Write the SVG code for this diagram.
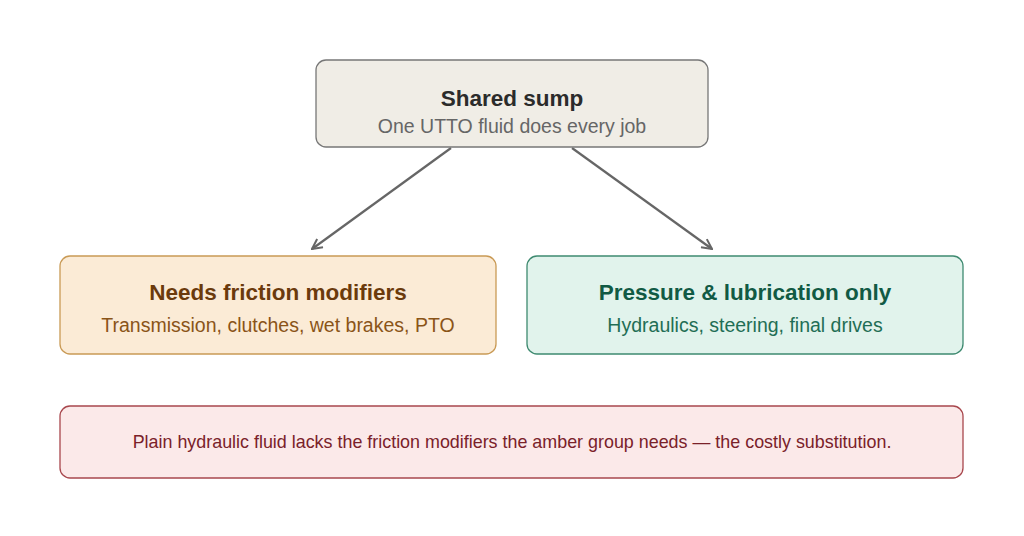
<svg xmlns="http://www.w3.org/2000/svg" width="1024" height="536" viewBox="0 0 1024 536">
<style>
text{font-family:"Liberation Sans",Arial,sans-serif;text-anchor:middle}
.t{font-size:22.5px;font-weight:bold}
.s{font-size:19.5px}
.c{fill:none;stroke:#666;stroke-width:2.2}
</style>
<defs><marker id="a" viewBox="0 0 12 12" refX="11" refY="6" markerWidth="12" markerHeight="12" markerUnits="userSpaceOnUse" orient="auto"><path d="M1,1 L11,6 L1,11" fill="none" stroke="#666" stroke-width="2"/></marker></defs>
<rect width="1024" height="536" fill="#fff"/>
<g id="connectors">
<line class="c" x1="451" y1="148" x2="312" y2="249" marker-end="url(#a)"/>
<line class="c" x1="572" y1="148" x2="712" y2="249" marker-end="url(#a)"/>
</g>
<g id="sump"><rect x="316" y="60" width="392" height="87" rx="10" fill="#f0ede6" stroke="#777" stroke-width="1.3"/>
<text class="t" x="512" y="106" fill="#2b2b2b">Shared sump</text>
<text class="s" x="512" y="133" fill="#666">One UTTO fluid does every job</text></g>
<g id="friction"><rect x="60" y="256" width="436" height="98" rx="10" fill="#fbebd6" stroke="#c99a55" stroke-width="1.3"/>
<text class="t" x="278" y="300" fill="#6b3a0c">Needs friction modifiers</text>
<text class="s" x="278" y="332" fill="#8a5418">Transmission, clutches, wet brakes, PTO</text></g>
<g id="pressure"><rect x="527" y="256" width="436" height="98" rx="10" fill="#e1f3ec" stroke="#3e8a70" stroke-width="1.3"/>
<text class="t" x="745" y="300" fill="#115a44">Pressure &amp; lubrication only</text>
<text class="s" x="745" y="332" fill="#1f6e55">Hydraulics, steering, final drives</text></g>
<g id="note"><rect x="60" y="406" width="903" height="72" rx="10" fill="#fbe9e9" stroke="#a8474d" stroke-width="1.3"/>
<text x="512" y="448" font-size="17.9" fill="#7a2129">Plain hydraulic fluid lacks the friction modifiers the amber group needs — the costly substitution.</text></g>
</svg>
